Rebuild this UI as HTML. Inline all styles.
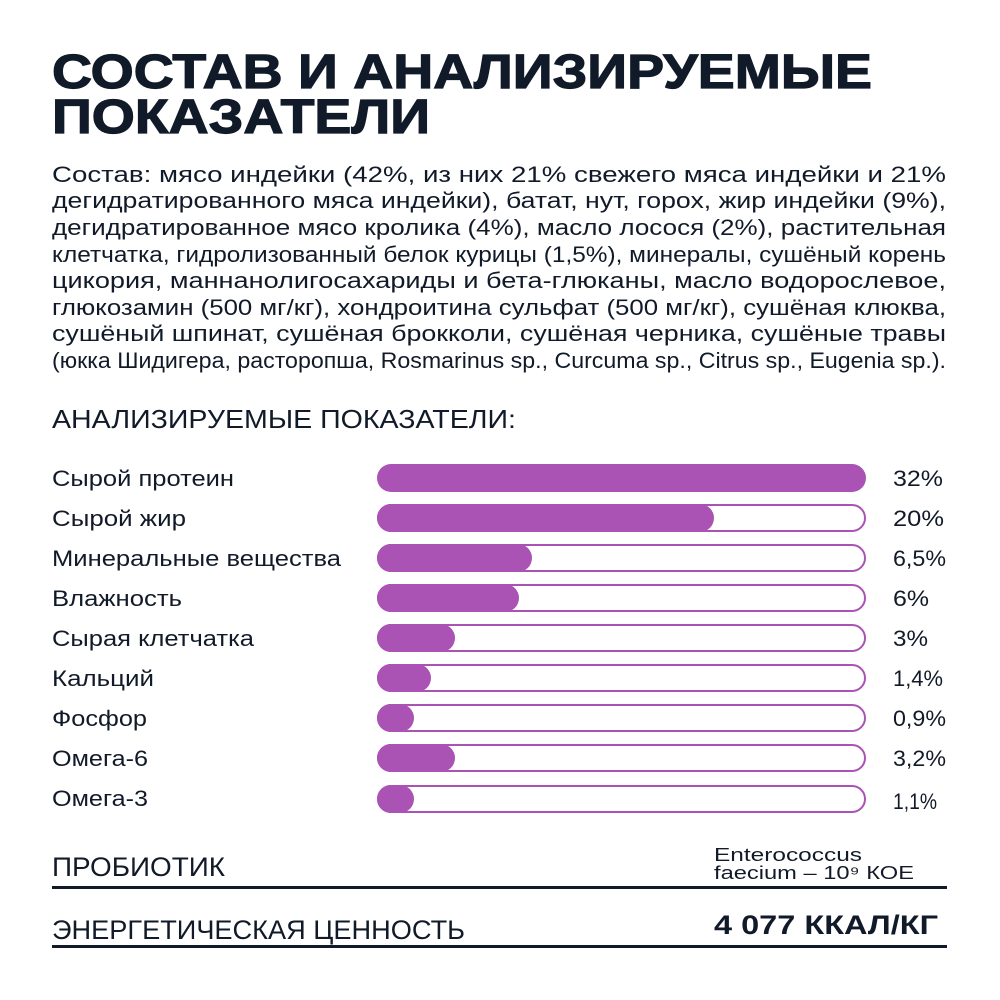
<!DOCTYPE html>
<html><head><meta charset="utf-8"><style>
html,body{margin:0;padding:0;background:#fff;}
svg{display:block}
text{font-family:"Liberation Sans",sans-serif;fill:#111a28}
.t{font-weight:bold;font-size:48px}
.b{font-size:22px}
.l{font-size:22px}
</style></head><body>
<svg width="1000" height="1000" viewBox="0 0 1000 1000" xmlns="http://www.w3.org/2000/svg">
<rect width="1000" height="1000" fill="#fff"/>
<text class="t" x="52" y="88" textLength="820" lengthAdjust="spacingAndGlyphs" stroke="#111a28" stroke-width="1.2">СОСТАВ И АНАЛИЗИРУЕМЫЕ</text>
<text class="t" x="52" y="133" textLength="378" lengthAdjust="spacingAndGlyphs" stroke="#111a28" stroke-width="1.2">ПОКАЗАТЕЛИ</text>
<g>
<text class="b" x="52" y="182" textLength="894" lengthAdjust="spacingAndGlyphs">Состав: мясо индейки (42%, из них 21% свежего мяса индейки и 21%</text>
<text class="b" x="52" y="208" textLength="894" lengthAdjust="spacingAndGlyphs">дегидратированного мяса индейки), батат, нут, горох, жир индейки (9%),</text>
<text class="b" x="52" y="235" textLength="894" lengthAdjust="spacingAndGlyphs">дегидратированное мясо кролика (4%), масло лосося (2%), растительная</text>
<text class="b" x="52" y="262" textLength="894" lengthAdjust="spacingAndGlyphs">клетчатка, гидролизованный белок курицы (1,5%), минералы, сушёный корень</text>
<text class="b" x="52" y="288" textLength="894" lengthAdjust="spacingAndGlyphs">цикория, маннанолигосахариды и бета-глюканы, масло водорослевое,</text>
<text class="b" x="52" y="315" textLength="894" lengthAdjust="spacingAndGlyphs">глюкозамин (500 мг/кг), хондроитина сульфат (500 мг/кг), сушёная клюква,</text>
<text class="b" x="52" y="341" textLength="894" lengthAdjust="spacingAndGlyphs">сушёный шпинат, сушёная брокколи, сушёная черника, сушёные травы</text>
<text class="b" x="52" y="368" textLength="894" lengthAdjust="spacingAndGlyphs">(юкка Шидигера, расторопша, Rosmarinus sp., Curcuma sp., Citrus sp., Eugenia sp.).</text>
</g>
<text x="52" y="428" font-size="26" textLength="464" lengthAdjust="spacingAndGlyphs">АНАЛИЗИРУЕМЫЕ ПОКАЗАТЕЛИ:</text>
<g>
<text class="l" x="52" y="486" textLength="182" lengthAdjust="spacingAndGlyphs">Сырой протеин</text>
<text class="l" x="52" y="526" textLength="134" lengthAdjust="spacingAndGlyphs">Сырой жир</text>
<text class="l" x="52" y="566" textLength="289" lengthAdjust="spacingAndGlyphs">Минеральные вещества</text>
<text class="l" x="52" y="606" textLength="130" lengthAdjust="spacingAndGlyphs">Влажность</text>
<text class="l" x="52" y="646" textLength="202" lengthAdjust="spacingAndGlyphs">Сырая клетчатка</text>
<text class="l" x="52" y="686" textLength="102" lengthAdjust="spacingAndGlyphs">Кальций</text>
<text class="l" x="52" y="726" textLength="95" lengthAdjust="spacingAndGlyphs">Фосфор</text>
<text class="l" x="52" y="766" textLength="96" lengthAdjust="spacingAndGlyphs">Омега-6</text>
<text class="l" x="52" y="806" textLength="96" lengthAdjust="spacingAndGlyphs">Омега-3</text>
<text class="l" x="893" y="486" textLength="50" lengthAdjust="spacingAndGlyphs">32%</text>
<text class="l" x="893" y="526" textLength="51" lengthAdjust="spacingAndGlyphs">20%</text>
<text class="l" x="893" y="566" textLength="53" lengthAdjust="spacingAndGlyphs">6,5%</text>
<text class="l" x="893" y="606" textLength="36" lengthAdjust="spacingAndGlyphs">6%</text>
<text class="l" x="893" y="646" textLength="35" lengthAdjust="spacingAndGlyphs">3%</text>
<text class="l" x="893" y="686" textLength="50" lengthAdjust="spacingAndGlyphs">1,4%</text>
<text class="l" x="893" y="726" textLength="53" lengthAdjust="spacingAndGlyphs">0,9%</text>
<text class="l" x="893" y="766" textLength="53" lengthAdjust="spacingAndGlyphs">3,2%</text>
<text class="l" x="893" y="809" textLength="44" lengthAdjust="spacingAndGlyphs">1,1%</text>
</g>
<g fill="#fff" stroke="#ab52b5" stroke-width="2">
<rect x="378" y="505" width="487" height="26" rx="13"/>
<rect x="378" y="545" width="487" height="26" rx="13"/>
<rect x="378" y="585" width="487" height="26" rx="13"/>
<rect x="378" y="625" width="487" height="26" rx="13"/>
<rect x="378" y="665" width="487" height="26" rx="13"/>
<rect x="378" y="705" width="487" height="26" rx="13"/>
<rect x="378" y="745" width="487" height="26" rx="13"/>
<rect x="378" y="786" width="487" height="26" rx="13"/>
</g>
<g fill="#ab52b5">
<rect x="377" y="464" width="489" height="28" rx="14"/>
<rect x="377" y="504" width="337" height="28" rx="14"/>
<rect x="377" y="544" width="155" height="28" rx="14"/>
<rect x="377" y="584" width="142" height="28" rx="14"/>
<rect x="377" y="624" width="78" height="28" rx="14"/>
<rect x="377" y="664" width="54" height="28" rx="14"/>
<rect x="377" y="704" width="37" height="28" rx="14"/>
<rect x="377" y="744" width="78" height="28" rx="14"/>
<rect x="377" y="785" width="37" height="28" rx="14"/>
</g>
<text x="52" y="876" font-size="27" textLength="173" lengthAdjust="spacingAndGlyphs">ПРОБИОТИК</text>
<text x="714" y="861" font-size="18" textLength="148" lengthAdjust="spacingAndGlyphs">Enterococcus</text>
<text x="714" y="879" font-size="18" textLength="200" lengthAdjust="spacingAndGlyphs">faecium – 10⁹ КОЕ</text>
<rect x="52" y="886" width="895" height="3" fill="#111a28"/>
<text x="52" y="939" font-size="27" textLength="413" lengthAdjust="spacingAndGlyphs">ЭНЕРГЕТИЧЕСКАЯ ЦЕННОСТЬ</text>
<text x="714" y="934" font-size="27" font-weight="bold" textLength="224" lengthAdjust="spacingAndGlyphs">4 077 ККАЛ/КГ</text>
<rect x="52" y="945" width="895" height="3" fill="#111a28"/>
</svg>
</body></html>
